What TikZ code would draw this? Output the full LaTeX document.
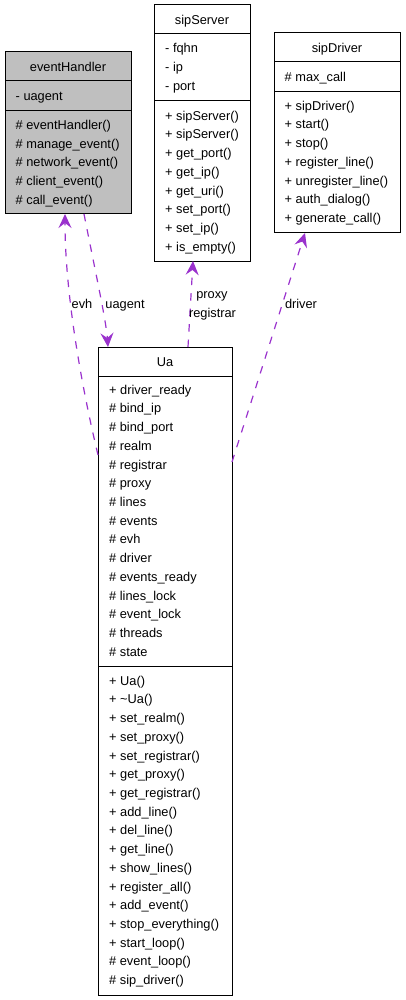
\documentclass[tikz,border=0pt]{standalone}
\usepackage{fontspec}
\setmainfont{Liberation Sans}
\usetikzlibrary{arrows.meta, calc}
\definecolor{depcolor}{HTML}{9A32CD}
\definecolor{basegray}{HTML}{BFBFBF}
\tikzset{
    classbox/.style = {
        rectangle, draw=black, line width=1pt,
        inner sep=0pt, outer sep=0pt,
        anchor=north west
    },
    classtitle/.style = {
        inner sep=0pt, anchor=mid, yshift=-2.5pt,
        font=\fontsize{12.8}{15}\selectfont
    },
    member/.style = {
        inner sep=0pt, anchor=mid west, yshift=-2.5pt,
        font=\fontsize{12.8}{15}\selectfont
    },
    divider/.style = {
        draw=black, line width=1pt
    },
    uses/.style = {
        depcolor, line width=1.2pt,
        dash pattern=on 7.5pt off 8pt,
        -{Stealth[length=14pt, width=13pt, inset=5pt]}
    },
    uselabel/.style = {
        inner sep=0pt, anchor=mid, yshift=-2.5pt,
        font=\fontsize{12.8}{15}\selectfont
    }
}
\begin{document}
\begin{tikzpicture}[x=1pt, y=-1pt]
\useasboundingbox (0,0) rectangle (405,1000);

% eventHandler
\node (evh) [classbox, fill=basegray, minimum width=126pt, minimum height=162pt] at (5,52) {};
\draw [divider] ($(evh.north west)+(0,29)$) -- ($(evh.north east)+(0,29)$);
\draw [divider] ($(evh.north west)+(0,59)$) -- ($(evh.north east)+(0,59)$);
\node (evhtitle) [classtitle] at (68,66.5) {eventHandler};
\node (evhattr1) [member] at (15.5,95) {- uagent};
\foreach \t [count=\i] in {\# eventHandler(), \# manage\_event(), \# network\_event(), \# client\_event(), \# call\_event()}
    \node (evhop\i) [member] at (15.5,{124.2+18.72*(\i-1)}) {\t};

% sipServer
\node (srv) [classbox, fill=white, minimum width=96pt, minimum height=256pt] at (154,5) {};
\draw [divider] ($(srv.north west)+(0,29)$) -- ($(srv.north east)+(0,29)$);
\draw [divider] ($(srv.north west)+(0,96)$) -- ($(srv.north east)+(0,96)$);
\node (srvtitle) [classtitle] at (202,19.5) {sipServer};
\foreach \t [count=\i] in {- fqhn, - ip, - port}
    \node (srvattr\i) [member] at (165,{47.7+18.72*(\i-1)}) {\t};
\foreach \t [count=\i] in {+ sipServer(), + sipServer(), + get\_port(), + get\_ip(), + get\_uri(), + set\_port(), + set\_ip(), + is\_empty()}
    \node (srvop\i) [member] at (165,{115+18.72*(\i-1)}) {\t};

% sipDriver
\node (drv) [classbox, fill=white, minimum width=126pt, minimum height=200pt] at (274,33) {};
\draw [divider] ($(drv.north west)+(0,29)$) -- ($(drv.north east)+(0,29)$);
\draw [divider] ($(drv.north west)+(0,59)$) -- ($(drv.north east)+(0,59)$);
\node (drvtitle) [classtitle] at (337,47.5) {sipDriver};
\node (drvattr1) [member] at (284.5,76) {\# max\_call};
\foreach \t [count=\i] in {+ sipDriver(), + start(), + stop(), + register\_line(), + unregister\_line(), + auth\_dialog(), + generate\_call()}
    \node (drvop\i) [member] at (284.5,{105+18.72*(\i-1)}) {\t};

% Ua
\node (ua) [classbox, fill=white, minimum width=134pt, minimum height=648pt] at (98,347) {};
\draw [divider] ($(ua.north west)+(0,29)$) -- ($(ua.north east)+(0,29)$);
\draw [divider] ($(ua.north west)+(0,319)$) -- ($(ua.north east)+(0,319)$);
\node (uatitle) [classtitle] at (165,361.5) {Ua};
\foreach \t [count=\i] in {+ driver\_ready, \# bind\_ip, \# bind\_port, \# realm, \# registrar, \# proxy, \# lines, \# events, \# evh, \# driver, \# events\_ready, \# lines\_lock, \# event\_lock, \# threads, \# state}
    \node (uaattr\i) [member] at (109,{389+18.72*(\i-1)}) {\t};
\foreach \t [count=\i] in {+ Ua(), + \textasciitilde Ua(), + set\_realm(), + set\_proxy(), + set\_registrar(), + get\_proxy(), + get\_registrar(), + add\_line(), + del\_line(), + get\_line(), + show\_lines(), + register\_all(), + add\_event(), + stop\_everything(), + start\_loop(), \# event\_loop(), \# sip\_driver()}
    \node (uaop\i) [member] at (109,{680+18.72*(\i-1)}) {\t};

% usage relations
\draw [uses] ($(ua.north west)+(0,108)$) .. controls (80,380) and (65,290) .. ($(evh.south west)+(60,0)$);
\draw [uses] ($(evh.south west)+(79,0)$) .. controls (95,270) and (106,320) .. ($(ua.north west)+(10,0)$);
\draw [uses] ($(ua.north west)+(90,0)$) -- ($(srv.south west)+(39,0)$);
\draw [uses] ($(ua.north east)+(0,115)$) -- ($(drv.south west)+(31,0)$);

\node (evhlabel) [uselabel] at (82,303) {evh};
\node (uagentlabel) [uselabel] at (125,303) {uagent};
\node (proxylabel) [uselabel] at (212,293) {proxy};
\node (registrarlabel) [uselabel] at (212.5,312) {registrar};
\node (driverlabel) [uselabel] at (301,303) {driver};

\end{tikzpicture}
\end{document}
